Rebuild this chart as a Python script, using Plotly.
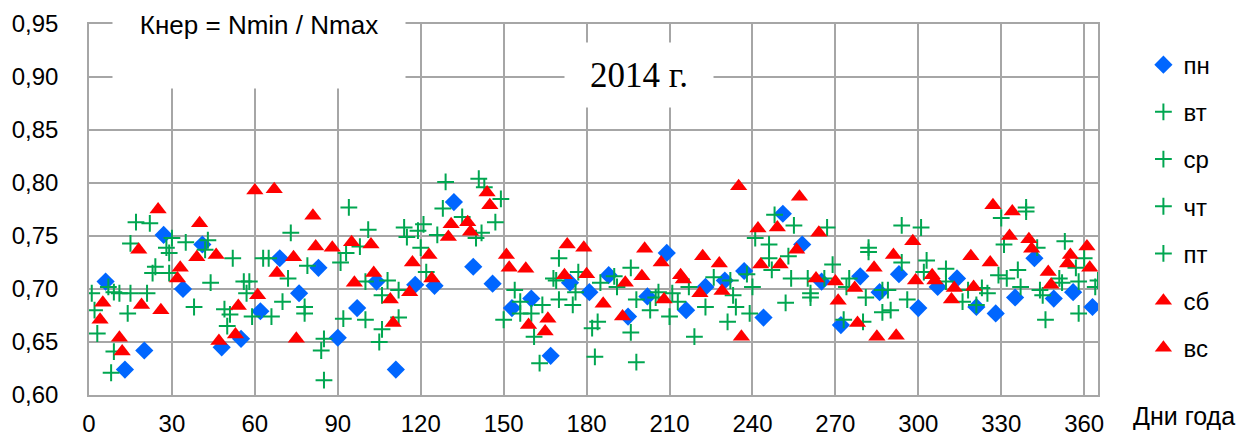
import plotly.graph_objects as go

# ---- data (day of year, Kner) ----
mon_days = [6, 13, 20, 27, 34, 41, 48, 55, 62, 69, 76, 83, 90, 97, 104, 111, 118, 125, 132, 139,
            146, 153, 160, 167, 174, 181, 188, 195, 202, 209, 216, 223, 230, 237, 244, 251, 258,
            265, 272, 279, 286, 293, 300, 307, 314, 321, 328, 335, 342, 349, 356, 363]
mon_vals = [0.707, 0.624, 0.642, 0.751, 0.700, 0.742, 0.645, 0.653, 0.679, 0.729, 0.696, 0.720,
            0.654, 0.682, 0.707, 0.624, 0.704, 0.703, 0.782, 0.721, 0.705, 0.682, 0.691, 0.637,
            0.706, 0.697, 0.713, 0.674, 0.693, 0.734, 0.680, 0.702, 0.708, 0.717, 0.673, 0.771,
            0.742, 0.707, 0.666, 0.712, 0.697, 0.714, 0.682, 0.702, 0.710, 0.683, 0.677, 0.692,
            0.729, 0.691, 0.697, 0.683]

wk_days = [1, 2, 3, 7, 8, 9, 9, 11, 14, 15, 15, 17, 21, 22, 23, 24, 28, 29, 29, 30, 35, 38,
           43, 42, 52, 73, 63, 65, 44, 56, 58, 57, 72, 79, 49, 51, 59, 66, 70, 78, 78, 50, 85, 84, 85,
           129, 94, 101, 114, 121, 119, 115, 128, 126, 120, 98, 93, 91, 100, 108, 106, 112, 122,
           92, 100, 112, 106, 105,
           141, 143, 149, 147, 135, 142, 140, 170, 168, 169, 177, 176, 170, 175, 154, 156, 150,
           156, 160, 164, 161, 163,
           196, 190, 185, 191, 198, 205, 206, 203, 211, 213, 210, 217, 223, 226, 184, 182, 196,
           183, 198, 219,
           248, 255, 267, 246, 241, 246, 253, 269, 247, 232, 238, 240, 254, 260, 266, 274, 233,
           261, 261, 234, 239, 252, 231, 273,
           294, 301, 282, 282, 294, 303, 302, 310, 275, 310, 287, 289, 281, 296, 318, 316, 287,
           290, 280, 321,
           339, 339, 330, 331, 343, 353, 360, 329, 332, 336, 337, 323, 325, 344, 345, 351, 352,
           357, 358, 365, 364, 346, 358]
wk_vals = [0.696, 0.680, 0.658, 0.702, 0.621, 0.641, 0.697, 0.696, 0.677, 0.696, 0.743, 0.763,
           0.696, 0.762, 0.715, 0.721, 0.739, 0.734, 0.715, 0.748, 0.744, 0.683,
           0.746, 0.737, 0.729, 0.753, 0.729, 0.729, 0.706, 0.707, 0.707, 0.696, 0.710, 0.722,
           0.681, 0.676, 0.674, 0.674, 0.688, 0.683, 0.677, 0.665, 0.653, 0.642, 0.614,
           0.801, 0.777, 0.756, 0.758, 0.761, 0.755, 0.749, 0.776, 0.751, 0.739, 0.740, 0.734,
           0.725, 0.707, 0.708, 0.694, 0.699, 0.716, 0.672, 0.671, 0.673, 0.662, 0.650,
           0.804, 0.796, 0.785, 0.763, 0.768, 0.753, 0.748, 0.729, 0.710, 0.708, 0.716, 0.697,
           0.690, 0.685, 0.699, 0.688, 0.671, 0.677, 0.677, 0.685, 0.655, 0.630,
           0.720, 0.712, 0.706, 0.702, 0.690, 0.692, 0.697, 0.680, 0.696, 0.688, 0.674, 0.702,
           0.683, 0.711, 0.669, 0.663, 0.659, 0.636, 0.631, 0.655,
           0.770, 0.760, 0.758, 0.742, 0.748, 0.729, 0.731, 0.723, 0.718, 0.708, 0.714, 0.702,
           0.710, 0.710, 0.710, 0.702, 0.694, 0.696, 0.692, 0.683, 0.677, 0.687, 0.669, 0.671,
           0.760, 0.758, 0.739, 0.735, 0.725, 0.727, 0.716, 0.719, 0.710, 0.707, 0.699, 0.699,
           0.692, 0.690, 0.699, 0.688, 0.678, 0.680, 0.669, 0.685,
           0.777, 0.773, 0.767, 0.742, 0.739, 0.745, 0.729, 0.713, 0.710, 0.718, 0.702, 0.701,
           0.696, 0.699, 0.694, 0.710, 0.706, 0.720, 0.707, 0.708, 0.702, 0.671, 0.677]

we_days = [4, 5, 11, 12, 18, 19, 25, 26, 32, 33, 39, 40, 46, 47, 53, 54, 60, 61, 67, 68, 74, 75,
           81, 82, 88, 95, 96, 102, 103, 109, 110, 116, 117, 123, 124, 130, 131, 137, 138, 144,
           145, 151, 152, 158, 159, 165, 166, 172, 173, 179, 180, 186, 193, 194, 200, 201, 207,
           208, 214, 215, 221, 222, 228, 229, 235, 236, 242, 243, 249, 250, 256, 257, 263, 264,
           270, 271, 277, 278, 284, 285, 291, 292, 298, 299, 305, 306, 312, 313, 319, 320, 326,
           327, 333, 334, 340, 341, 347, 348, 354, 355, 361, 362]
we_vals = [0.671, 0.687, 0.654, 0.641, 0.737, 0.685, 0.775, 0.680, 0.710, 0.720, 0.730, 0.762,
           0.732, 0.651, 0.657, 0.684, 0.793, 0.694, 0.794, 0.715, 0.730, 0.653, 0.769, 0.740,
           0.739, 0.744, 0.706, 0.742, 0.715, 0.690, 0.668, 0.697, 0.725, 0.732, 0.710, 0.749,
           0.761, 0.763, 0.754, 0.791, 0.779, 0.732, 0.720, 0.719, 0.666, 0.660, 0.672, 0.713,
           0.742, 0.739, 0.714, 0.686, 0.674, 0.706, 0.712, 0.738, 0.725, 0.690, 0.713, 0.709,
           0.696, 0.731, 0.724, 0.698, 0.797, 0.655, 0.757, 0.723, 0.758, 0.723, 0.737, 0.787,
           0.710, 0.753, 0.707, 0.689, 0.701, 0.668, 0.720, 0.655, 0.732, 0.656, 0.745, 0.708,
           0.713, 0.708, 0.690, 0.701, 0.731, 0.702, 0.725, 0.779, 0.750, 0.773, 0.747, 0.738,
           0.716, 0.704, 0.724, 0.732, 0.740, 0.720]

names = ["пн", "вт", "ср", "чт", "пт", "сб", "вс"]
x_ticks = list(range(0, 361, 30))
y_ticks = [0.60, 0.65, 0.70, 0.75, 0.80, 0.85, 0.90, 0.95]

# ---- split by weekday (2014: day 1 = Wednesday) ----
wk_map = {0: "вт", 1: "ср", 2: "чт", 3: "пт", 4: "пт", 5: "вт", 6: "вт"}
series = {n: ([], []) for n in names}
series["пн"] = (mon_days, mon_vals)
for d, v in zip(wk_days, wk_vals):
    s = series[wk_map[d % 7]]
    s[0].append(d); s[1].append(v)
for d, v in zip(we_days, we_vals):
    s = series["сб" if d % 7 == 4 else "вс"]
    s[0].append(d); s[1].append(v)

BLUE = "#0066FF"
GREEN = "#00A650"
RED = "#FF0000"
FONT = "Arial, Liberation Sans, sans-serif"

styles = {
    "пн": dict(symbol="diamond", size=14, color=BLUE),
    "вт": dict(symbol="cross-thin", size=12, color=GREEN, line=dict(color=GREEN, width=2)),
    "ср": dict(symbol="cross-thin", size=12, color=GREEN, line=dict(color=GREEN, width=2)),
    "чт": dict(symbol="cross-thin", size=12, color=GREEN, line=dict(color=GREEN, width=2)),
    "пт": dict(symbol="cross-thin", size=12, color=GREEN, line=dict(color=GREEN, width=2)),
    "сб": dict(symbol="triangle-up", size=15, color=RED),
    "вс": dict(symbol="triangle-up", size=15, color=RED),
}

fig = go.Figure()
for n in names:
    xs, ys = series[n]
    fig.add_trace(go.Scatter(x=xs, y=ys, mode="markers", name=n, legendgroup=n,
                             marker=styles[n]))

# page body has an 8px default margin, so the figure is drawn 8px smaller and offset
W, H = 1236, 431
grid = "#a6a6a6"
fig.update_layout(
    width=W, height=H,
    margin=dict(l=81, r=146, t=16, b=44, autoexpand=False),
    paper_bgcolor="white", plot_bgcolor="white",
    separators=", ",
    font=dict(family=FONT, size=24, color="black"),
    showlegend=True,
    legend=dict(x=1.045, y=0.95, xanchor="left", yanchor="top",
                font=dict(size=24), tracegroupgap=13, traceorder="grouped",
                itemwidth=30, bgcolor="rgba(0,0,0,0)"),
    xaxis=dict(range=[0, 365], tickvals=x_ticks, showgrid=True, gridcolor=grid, gridwidth=1.5,
               showline=True, linecolor=grid, linewidth=1.5, mirror=True, zeroline=False,
               ticks="", ticklabelstandoff=6, tickfont=dict(size=24)),
    yaxis=dict(range=[0.60, 0.95], tickvals=y_ticks, tickformat=".2f", showgrid=True,
               gridcolor=grid, gridwidth=1.5, showline=True, linecolor=grid, linewidth=1.5,
               mirror=True, zeroline=False, ticks="", ticklabelstandoff=24,
               tickfont=dict(size=24)),
    annotations=[
        dict(text="Кнер = Nmin / Nmax", xref="paper", yref="paper",
             x=(259 - 89) / 1009, y=(395 - 49) / 371, xanchor="center", yanchor="middle",
             width=292, height=78, valign="top", bgcolor="white", borderpad=0,
             showarrow=False, font=dict(family=FONT, size=26, color="black")),
        dict(text="2014 г.", xref="paper", yref="paper",
             x=(639 - 89) / 1009, y=(395 - 75) / 371, xanchor="center", yanchor="middle",
             width=148, height=64, bgcolor="white", borderpad=0, showarrow=False,
             font=dict(family="Times New Roman, Liberation Serif, serif", size=35,
                       color="black")),
        dict(text="Дни года", xref="paper", yref="paper",
             x=(1184 - 89) / 1009, y=(395 - 416) / 371, xanchor="center", yanchor="middle",
             showarrow=False, font=dict(family=FONT, size=25, color="black")),
    ],
)

fig.write_html("out.html")
